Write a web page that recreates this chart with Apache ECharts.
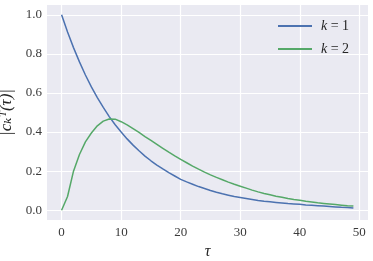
<!DOCTYPE html>
<html><head><meta charset="utf-8">
<script src="https://cdn.jsdelivr.net/npm/echarts@6/dist/echarts.min.js"></script>
<style>html,body{margin:0;padding:0;background:#fff}#c{width:373px;height:261px}</style>
</head><body><div id="c"></div>
<script>
const tau = Array.from({length: 50}, (_, i) => i);
const k1 = [1.000,0.912,0.832,0.759,0.692,0.631,0.576,0.526,0.479,0.437,0.400,0.365,0.333,0.304,0.277,0.253,0.231,0.211,0.192,0.175,0.158,0.145,0.133,0.121,0.111,0.101,0.092,0.084,0.077,0.070,0.065,0.060,0.055,0.050,0.046,0.043,0.040,0.037,0.034,0.032,0.030,0.027,0.025,0.023,0.021,0.019,0.017,0.015,0.014,0.012];
const k2 = [0.000,0.070,0.200,0.285,0.350,0.395,0.432,0.456,0.467,0.466,0.453,0.437,0.418,0.398,0.377,0.357,0.337,0.317,0.297,0.278,0.260,0.243,0.226,0.210,0.195,0.181,0.168,0.156,0.144,0.133,0.123,0.113,0.103,0.094,0.086,0.079,0.072,0.066,0.060,0.055,0.051,0.046,0.042,0.038,0.035,0.032,0.029,0.026,0.023,0.021];
const xTicks = [0,10,20,30,40,50];
const yTicks = [0,0.2,0.4,0.6,0.8,1.0];
const names = ['k = 1','k = 2'];

const chart = echarts.init(document.getElementById('c'));
const serif = "'Liberation Serif','DejaVu Serif',serif";
chart.setOption({
  animation: false,
  backgroundColor: '#ffffff',
  grid: {left: 47, right: 5, top: 5, bottom: 41, show: true, backgroundColor: '#EAEAF2', borderWidth: 0,
         containLabel: false, outerBoundsMode: 'none'},
  legend: {
    orient: 'vertical', left: 273, top: 14, itemWidth: 34, itemHeight: 2, itemGap: 9,
    icon: 'rect',
    data: names,
    formatter: n => '{i|k} = ' + n.slice(4),
    textStyle: {fontFamily: serif, fontSize: 14, color: '#262626', padding: [0,0,0,4], rich: {i: {fontStyle: 'italic', fontFamily: serif, fontSize: 14}}}
  },
  xAxis: {
    type: 'value', min: -2.45, max: 51.45,
    name: 'τ', nameLocation: 'middle', nameGap: 23,
    nameTextStyle: {fontFamily: serif, fontStyle: 'italic', fontSize: 16, color: '#262626'},
    axisLine: {show: false}, axisTick: {show: false, customValues: xTicks},
    axisLabel: {customValues: xTicks, fontFamily: serif, fontSize: 13, color: '#3a3a3a', margin: 6},
    splitLine: {show: true, lineStyle: {color: '#ffffff', width: 1.2}}
  },
  yAxis: {
    type: 'value', min: -0.05, max: 1.05,
    name: '|cₖᵀ(τ)|', nameLocation: 'middle', nameGap: 30, nameRotate: 90,
    nameTextStyle: {fontFamily: serif, fontStyle: 'italic', fontSize: 17, color: '#262626'},
    axisLine: {show: false}, axisTick: {show: false, customValues: yTicks},
    axisLabel: {customValues: yTicks, formatter: v => v.toFixed(1), fontFamily: serif, fontSize: 13, color: '#3a3a3a', margin: 5},
    splitLine: {show: true, lineStyle: {color: '#ffffff', width: 1.2}}
  },
  series: [
    {name: names[0], type: 'line', showSymbol: false, symbol: 'none',
     lineStyle: {color: '#4C72B0', width: 1.5}, itemStyle: {color: '#4C72B0'},
     data: tau.map((t, i) => [t, k1[i]])},
    {name: names[1], type: 'line', showSymbol: false, symbol: 'none',
     lineStyle: {color: '#55A868', width: 1.5}, itemStyle: {color: '#55A868'},
     data: tau.map((t, i) => [t, k2[i]])}
  ]
});
</script></body></html>
